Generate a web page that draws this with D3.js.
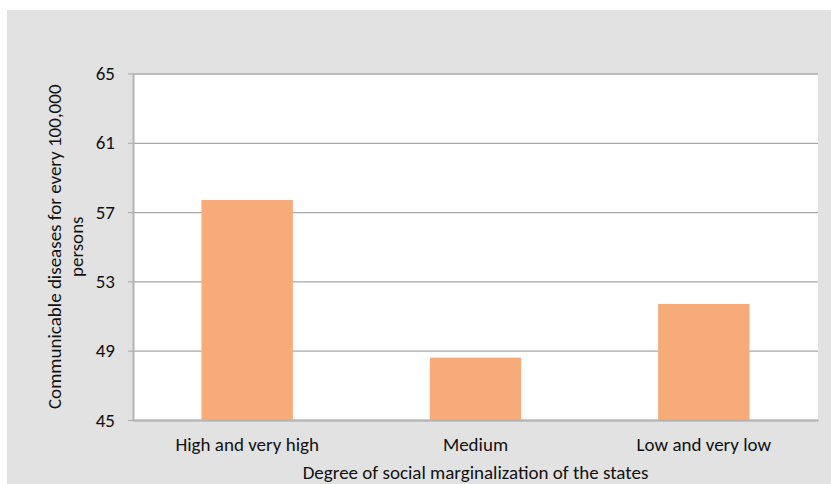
<!DOCTYPE html>
<html>
<head>
<meta charset="utf-8">
<script src="https://d3js.org/d3.v7.min.js"></script>
<style>
  body { margin: 0; background: #fff; }
  text { font-family: Carlito, Calibri, Lato, "Liberation Sans", sans-serif; fill: #111; }
</style>
</head>
<body>
<div id="chart"></div>
<script>
// data
let categories = ["High and very high", "Medium", "Low and very low"];
let values = [57.7, 48.6, 51.7];
let yTicks = [45, 49, 53, 57, 61, 65];

let W = 831, H = 484;
let margin = { top: 73.5, right: 13, bottom: 64, left: 133 };
let width = W - margin.left - margin.right,
    height = H - margin.top - margin.bottom;

let svg = d3.select("#chart").append("svg")
    .attr("width", W)
    .attr("height", H);

// grey chart area
svg.append("rect")
    .attr("x", 7).attr("y", 10)
    .attr("width", W - 7).attr("height", H - 10)
    .attr("fill", "#e2e2e2");

let g = svg.append("g")
    .attr("transform", "translate(" + margin.left + "," + margin.top + ")");

// plot area
g.append("rect")
    .attr("width", width).attr("height", height)
    .attr("fill", "#fff");

let x = d3.scaleBand()
    .domain(categories)
    .range([0, width])
    .paddingInner(0.6)
    .paddingOuter(0.3);

let y = d3.scaleLinear()
    .domain([45, 65])
    .range([height, 0]);

// gridlines
g.append("g")
    .attr("class", "grid")
    .call(d3.axisRight(y).tickValues(yTicks).tickSize(width).tickFormat(""))
    .call(s => s.select(".domain").remove())
    .selectAll("line")
    .attr("stroke", "#a8a8a8")
    .attr("stroke-width", 1.3);

// bars
g.selectAll(".bar")
    .data(values)
    .enter().append("rect")
    .attr("class", "bar")
    .attr("x", (d, i) => x(categories[i]))
    .attr("width", x.bandwidth())
    .attr("y", d => y(d))
    .attr("height", d => height - y(d))
    .attr("fill", "#f6ab78");

// y axis
let yAxis = g.append("g")
    .call(d3.axisLeft(y).tickValues(yTicks).tickSize(5).tickPadding(13).tickSizeOuter(0));
yAxis.select(".domain").attr("stroke", "#b4b4b4").attr("stroke-width", 2);
yAxis.selectAll(".tick line").attr("stroke", "#b4b4b4").attr("stroke-width", 1.3);
yAxis.selectAll(".tick text").style("font-size", "19px").attr("fill", "#111");

// x axis (baseline)
let xAxis = g.append("g")
    .attr("transform", "translate(0," + height + ")")
    .call(d3.axisBottom(x).tickSize(0).tickPadding(18));
xAxis.select(".domain").attr("stroke", "#b4b4b4").attr("stroke-width", 2);
xAxis.selectAll(".tick text").style("font-size", "19px").attr("fill", "#111");

// axis titles
svg.append("text")
    .attr("x", margin.left + width / 2)
    .attr("y", 478.5)
    .attr("text-anchor", "middle")
    .style("font-size", "19px")
    .text("Degree of social marginalization of the states");

let yt = svg.append("text")
    .attr("transform", "translate(61," + (margin.top + height / 2) + ") rotate(-90)")
    .attr("text-anchor", "middle")
    .style("font-size", "19px");
yt.append("tspan").attr("x", 0).attr("y", 0).text("Communicable diseases for every 100,000");
yt.append("tspan").attr("x", 0).attr("y", 21.5).text("persons");
</script>
</body>
</html>
